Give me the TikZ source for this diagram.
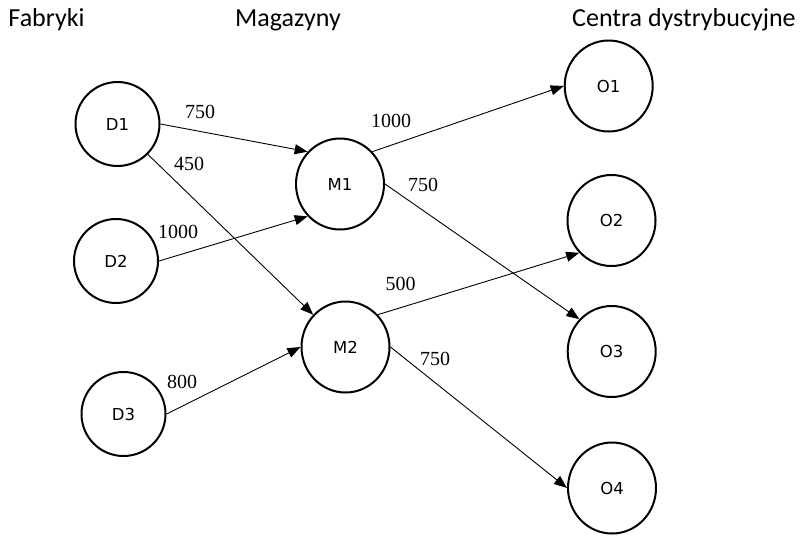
\documentclass[tikz,border=0pt]{standalone}
\usepackage{fontspec}
\setmainfont{Liberation Serif}
\newfontfamily\headfont{Carlito}
\newfontfamily\nodefont{DejaVu Sans}
\usetikzlibrary{shapes.geometric,arrows.meta}

\tikzset{
  factory/.style={circle, draw, line width=2pt, minimum size=84pt, inner sep=0pt,
    font=\nodefont\fontsize{16.5}{18}\selectfont},
  hub/.style={ellipse, draw, line width=2pt, minimum width=88pt, minimum height=91pt,
    inner sep=0pt, font=\nodefont\fontsize{16.5}{18}\selectfont},
  flow/.style={-{Triangle[length=13pt,width=10pt]}, line width=0.9pt},
  qty/.style={anchor=base, inner sep=0pt, font=\fontsize{20}{22}\selectfont},
  head/.style={anchor=base west, inner sep=0pt, font=\headfont\fontsize{26}{28}\selectfont}
}

\begin{document}
\begin{tikzpicture}[x=1pt,y=-1pt]
\useasboundingbox (0,0) rectangle (802,536);

% column headings
\node[head] (hF) at (8.3,26.5) {Fabryki};
\node[head] (hM) at (235,26.5) {Magazyny};
\node[head] (hC) at (572,26.5) {Centra dystrybucyjne};

% factories
\node[factory] (D1) at (117.5,124) {D1};
\node[factory] (D2) at (116,261) {D2};
\node[factory] (D3) at (123.5,414) {D3};

% warehouses
\node[hub] (M1) at (340,184) {M1};
\node[hub] (M2) at (345.5,347) {M2};

% distribution centres
\node[hub] (O1) at (608.7,86) {O1};
\node[hub] (O2) at (611.5,220.5) {O2};
\node[hub] (O3) at (611.7,351.5) {O3};
\node[hub] (O4) at (612,488) {O4};

% flows
\draw[flow] (D1.east) -- (M1.135);
\draw[flow] (D1.-45) -- (M2.135);
\draw[flow] (D2.east) -- (M1.225);
\draw[flow] (D3.east) -- (M2.west);
\draw[flow] (M1.45) -- (O1.west);
\draw[flow] (M1.east) -- (O3.135);
\draw[flow] (M2.45) -- (O2.225);
\draw[flow] (M2.east) -- (O4.west);

% quantities
\node[qty] (q1) at (200,118) {750};
\node[qty] (q2) at (189,170) {450};
\node[qty] (q3) at (178,238) {1000};
\node[qty] (q4) at (182,388) {800};
\node[qty] (q5) at (391,127.3) {1000};
\node[qty] (q6) at (423,191.7) {750};
\node[qty] (q7) at (400.5,290) {500};
\node[qty] (q8) at (435,365) {750};
\end{tikzpicture}
\end{document}
